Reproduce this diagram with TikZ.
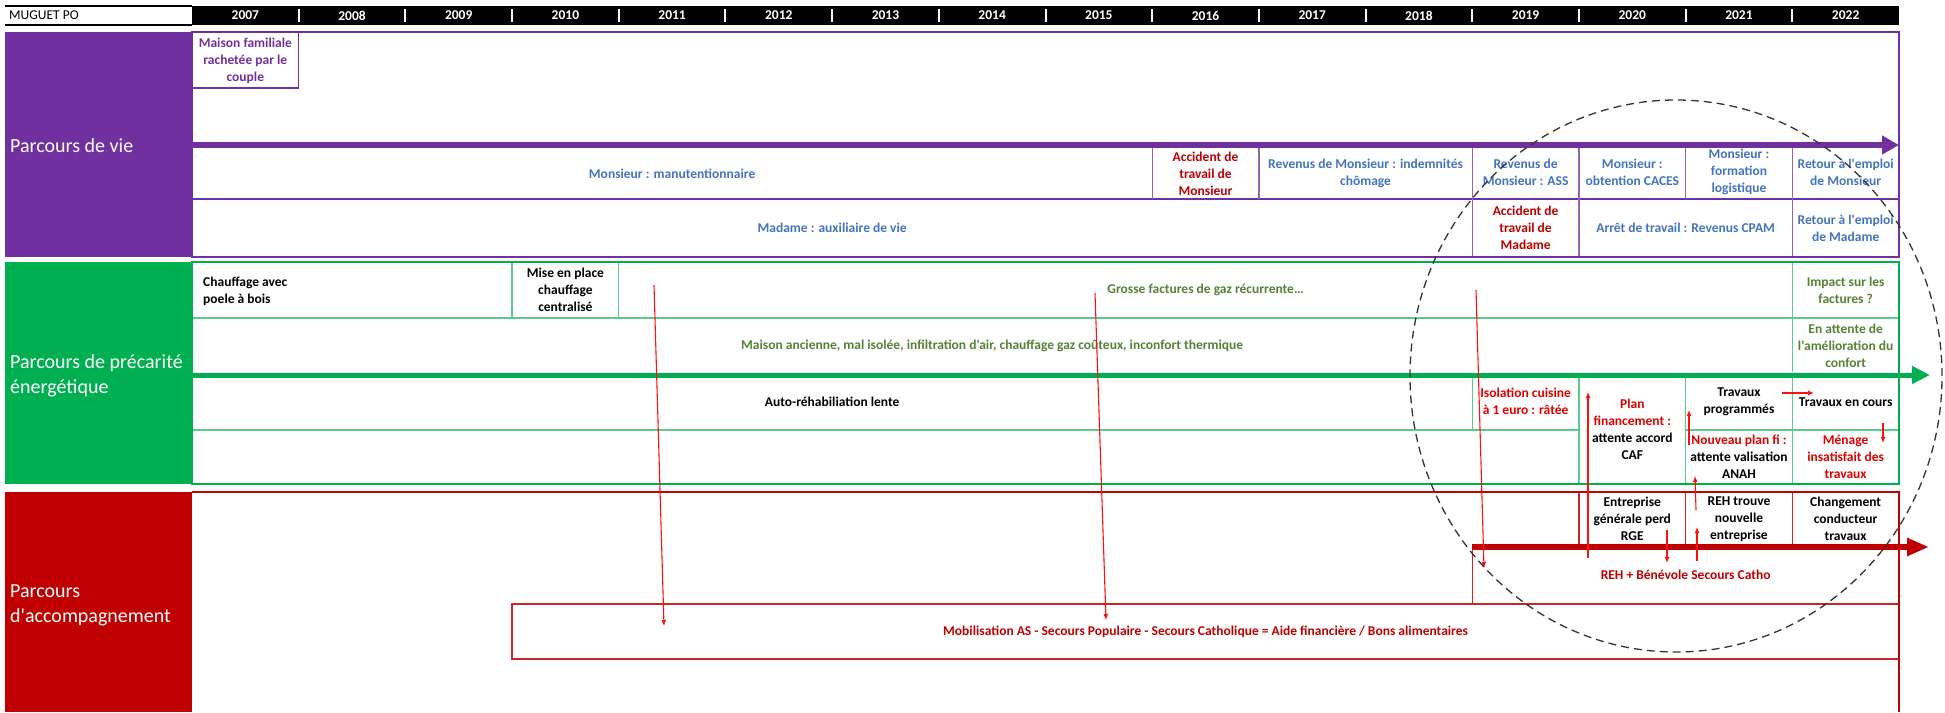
\documentclass[tikz,border=0pt]{standalone}
\usepackage{fontspec}
\setmainfont{Carlito}[Ligatures=TeXOff]
\usetikzlibrary{arrows.meta,calc}

\definecolor{vie}{HTML}{7030A0}
\definecolor{prec}{HTML}{00B050}
\definecolor{accomp}{HTML}{C00000}
\definecolor{bluetxt}{HTML}{4472C4}
\definecolor{greentxt}{HTML}{548235}
\definecolor{redtxt}{HTML}{C00000}
\definecolor{brighttxt}{HTML}{E00000}
\definecolor{linkred}{HTML}{FF1010}

% column width (one column per year, 2007..2022, starting at x=192)
\def\W{106.6875}

\begin{document}
\begin{tikzpicture}[x=1pt,y=-1pt,
  cell/.style={font=\fontsize{13.5}{17}\selectfont\bfseries, align=center, inner sep=0pt},
  lane/.style={font=\fontsize{20}{25}\selectfont, text=white, align=left, anchor=west, inner sep=0pt},
  year/.style={font=\fontsize{13.5}{16}\selectfont\bfseries, text=white, inner sep=0pt},
  link/.style={draw=linkred, line width=1.1pt, -{Latex[length=6pt,width=5pt]}},
  outer/.style={line width=2pt},
  inner/.style={line width=1.3pt},
]
\useasboundingbox (0,0) rectangle (1945,712);

% ---------------- header ----------------
\fill[black] (192,6) rectangle (1899,25);
\draw[line width=1.5pt] (5,6) -- (192,6) (5,25) -- (192,25);
\node[font=\fontsize{13.5}{16}\selectfont, anchor=west, inner sep=0pt] (title) at (9,15.5) {MUGUET PO};
\foreach \i in {1,...,15} {
  \draw[white, line width=2pt] ({192+\W*\i},9) -- ({192+\W*\i},22);
}
\foreach \y [count=\k from 0] in {2007,...,2022} {
  \node[year] (y\y) at ({192+\W*(\k+0.5)},15.5) {\y};
}

% ---------------- parcours de vie ----------------
\fill[vie] (5,32) rectangle (192,257);
\node[lane] (lvie) at (10,146) {Parcours de vie};
\draw[vie, inner] (192,199) -- (1899,199);
\foreach \i in {9,10,12,13,14,15} \draw[vie!75, inner] ({192+\W*\i},148) -- ({192+\W*\i},199);
\foreach \i in {12,13,15} \draw[vie!75, inner] ({192+\W*\i},199) -- ({192+\W*\i},257);
\draw[vie, inner] (192,32) rectangle ({192+\W},88);
\draw[vie, outer] (192,32) rectangle (1899,257);
\draw[vie, line width=6pt, -{Triangle[length=17pt,width=18pt]}] (192,145) -- (1899,145);

\node[cell, text=vie] (maison) at ({192+\W*0.5},61) {Maison familiale\\rachetée par le\\couple};
\node[cell, text=bluetxt] (manut) at ({192+\W*4.5},173.5) {Monsieur : manutentionnaire};
\node[cell, text=redtxt] (accM) at ({192+\W*9.5},173.5) {Accident de\\travail de\\Monsieur};
\node[cell, text=bluetxt] (chom) at ({192+\W*11},173.5) {Revenus de Monsieur : indemnités\\chômage};
\node[cell, text=bluetxt] (ass) at ({192+\W*12.5},172) {Revenus de\\Monsieur : ASS};
\node[cell, text=bluetxt] (caces) at ({192+\W*13.5},172) {Monsieur :\\obtention CACES};
\node[cell, text=bluetxt] (logi) at ({192+\W*14.5},172) {Monsieur :\\formation\\logistique};
\node[cell, text=bluetxt] (retM) at ({192+\W*15.5},172) {Retour à l'emploi\\de Monsieur};
\node[cell, text=bluetxt] (auxi) at ({192+\W*6},228) {Madame : auxiliaire de vie};
\node[cell, text=redtxt] (accF) at ({192+\W*12.5},228) {Accident de\\travail de\\Madame};
\node[cell, text=bluetxt] (cpam) at ({192+\W*14},228) {Arrêt de travail : Revenus CPAM};
\node[cell, text=bluetxt] (retF) at ({192+\W*15.5},228) {Retour à l'emploi\\de Madame};

% ---------------- parcours de précarité énergétique ----------------
\fill[prec] (5,262) rectangle (192,484);
\node[lane] (lprec) at (10,375.5) {Parcours de précarité\\énergétique};
\draw[prec!65, inner] (192,318) -- (1899,318);
\draw[prec!65, inner] (192,430) -- ({192+\W*13},430) ({192+\W*14},430) -- (1899,430);
\foreach \i in {3,4,15} \draw[prec!65, inner] ({192+\W*\i},262) -- ({192+\W*\i},318);
\draw[prec!65, inner] ({192+\W*15},318) -- ({192+\W*15},372);
\draw[prec!65, inner] ({192+\W*12},378) -- ({192+\W*12},430);
\foreach \i in {13,14,15} \draw[prec!65, inner] ({192+\W*\i},378) -- ({192+\W*\i},484);
\draw[prec, outer] (192,262) rectangle (1899,484);
\draw[prec, line width=5pt, -{Triangle[length=18pt,width=17pt]}] (192,375) -- (1930,375);

\node[cell, align=left, anchor=west] (poele) at (203,291) {Chauffage avec\\poele à bois};
\node[cell] (central) at ({192+\W*3.5},290) {Mise en place\\chauffage\\centralisé};
\node[cell, text=greentxt] (gaz) at ({192+\W*9.5},290) {Grosse factures de gaz récurrente…};
\node[cell, text=greentxt] (impact) at ({192+\W*15.5},290) {Impact sur les\\factures ?};
\node[cell, text=greentxt] (ancienne) at ({192+\W*7.5},346) {Maison ancienne, mal isolée, infiltration d'air, chauffage gaz coûteux, inconfort thermique};
\node[cell, text=greentxt] (confort) at ({192+\W*15.5},345.5) {En attente de\\l'amélioration du\\confort};
\node[cell] (auto) at ({192+\W*6},402) {Auto-réhabiliation lente};
\node[cell, text=brighttxt] (isol) at ({192+\W*12.5},401.5) {Isolation cuisine\\à 1 euro : râtée};
\node[cell] (caf) at ({192+\W*13.5},429) {\textcolor{brighttxt}{Plan}\\\textcolor{brighttxt}{financement :}\\attente accord\\CAF};
\node[cell] (prog) at ({192+\W*14.5},401.5) {Travaux\\programmés};
\node[cell] (encours) at ({192+\W*15.5},402) {Travaux en cours};
\node[cell] (anah) at ({192+\W*14.5},457) {\textcolor{brighttxt}{Nouveau plan fi :}\\attente valisation\\ANAH};
\node[cell, text=brighttxt] (menage) at ({192+\W*15.5},457) {Ménage\\insatisfait des\\travaux};

% ---------------- parcours d'accompagnement ----------------
\fill[accomp] (5,492) rectangle (192,712);
\node[lane] (lacc) at (10,605) {Parcours\\d'accompagnement};
\foreach \i in {13,14,15} \draw[accomp!85, inner] ({192+\W*\i},492) -- ({192+\W*\i},545);
\draw[accomp!85, inner] ({192+\W*12},547) rectangle (1899,603.5);
\draw[accomp!85, inner] ({192+\W*3},604) rectangle (1899,659);
\draw[accomp, outer] (192,492) -- (1899,492) -- (1899,712);
\draw[accomp, line width=6pt, -{Triangle[length=22pt,width=17pt]}] ({192+\W*12},547) -- (1929,547);

\node[cell] (rge) at ({192+\W*13.5},519) {Entreprise\\générale perd\\RGE};
\node[cell] (trouve) at ({192+\W*14.5},519) {REH trouve\\nouvelle\\entreprise};
\node[cell] (conduct) at ({192+\W*15.5},519) {Changement\\conducteur\\travaux};
\node[cell, text=redtxt] (reh) at ({192+\W*14},575) {REH + Bénévole Secours Catho};
\node[cell, text=redtxt] (mobil) at ({192+\W*9.5},632) {Mobilisation AS - Secours Populaire - Secours Catholique = Aide financière / Bons alimentaires};

% ---------------- links between events ----------------
\coordinate (s1) at (654,285);   \coordinate (e1) at (664,626);
\coordinate (s2) at (1095,293);  \coordinate (e2) at (1106,620);
\coordinate (s3) at (1476,290);  \coordinate (e3) at (1484,568);
\coordinate (s4) at (1588,558);  \coordinate (e4) at (1588,392);
\coordinate (s5) at (1667,530);  \coordinate (e5) at (1667,563);
\coordinate (s6) at (1697,561);  \coordinate (e6) at (1697,527);
\coordinate (s7) at (1696,510);  \coordinate (e7) at (1695,476);
\coordinate (s8) at (1689,445);  \coordinate (e8) at (1689,410);
\coordinate (s9) at (1782,393);  \coordinate (e9) at (1814,393);
\coordinate (s10) at (1883,423); \coordinate (e10) at (1883,443);
\foreach \k in {1,...,10} \draw[link] (s\k) -- (e\k);

% focus on the recent years
\draw[black!80, line width=1.3pt, dash pattern=on 8pt off 5pt] (1676,376) ellipse [x radius=266pt, y radius=276pt];
\end{tikzpicture}
\end{document}
